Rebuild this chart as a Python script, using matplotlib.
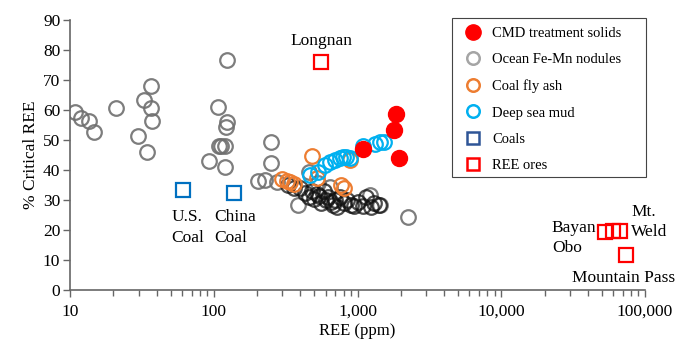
import numpy as np
import matplotlib.pyplot as plt
from matplotlib.lines import Line2D
from matplotlib.patches import Rectangle
from matplotlib.ticker import FuncFormatter, LogLocator, NullFormatter

plt.rcParams['font.family'] = ['Liberation Serif', 'DejaVu Serif']

# CMD treatment solids
cmd_x = [1090, 1800, 1855, 1945]
cmd_y = [47.0, 53.3, 58.7, 44.0]

# Ocean Fe-Mn nodules
nod_x = [10.8, 11.9, 13.6, 14.7, 20.9, 29.7, 32.7, 34.3, 36.6, 36.6, 37.3,
         92.7, 107, 108, 112, 124, 124, 122, 120, 120,
         203, 250, 250, 227, 276, 385, 535, 644, 1230, 1430, 2245, 460]
nod_y = [59.3, 57.3, 56.3, 52.7, 60.7, 51.3, 63.3, 45.9, 68.0, 60.7, 56.4,
         43.0, 61.0, 48.0, 48.0, 76.7, 56.0, 54.3, 48.0, 41.0,
         36.3, 49.5, 42.5, 36.7, 36.0, 28.3, 35.7, 34.3, 31.7, 28.3, 24.3, 39.5]

# Coal samples (dark circles)
coal_x = [330, 360, 400, 430, 460, 480, 500, 520, 540, 560, 580, 600, 620,
          650, 680, 700, 720, 760, 800, 850, 900, 950, 1000, 1100, 1150,
          1250, 1300, 1400]
coal_y = [35.0, 34.0, 34.0, 32.3, 31.0, 33.0, 30.5, 32.0, 31.5, 29.0, 33.0,
          30.0, 31.0, 29.5, 28.5, 30.0, 27.7, 31.0, 29.0, 30.0, 28.5, 28.0,
          29.5, 28.0, 31.0, 27.7, 29.0, 28.3]

# Coal fly ash
ash_x = [300, 322, 340, 360, 482, 523, 770, 800, 887]
ash_y = [37.0, 36.5, 36.0, 35.5, 44.7, 37.3, 35.0, 34.0, 43.3]

# Deep sea mud
mud_x = [468, 532, 593, 640, 696, 755, 793, 830, 887, 1091, 1320, 1430, 1540]
mud_y = [38.3, 39.3, 41.7, 42.7, 43.3, 44.0, 44.3, 44.3, 44.0, 48.0, 48.7,
         49.3, 49.3]

# Coal averages
coal_avg_x = [61, 138]
coal_avg_y = [33.3, 32.3]
coal_avg_names = ['U.S.\nCoal', 'China\nCoal']

# REE ores
ore_x = [557, 52700, 60000, 67000, 73800]
ore_y = [76.0, 19.5, 19.7, 19.7, 11.7]

fig = plt.figure(figsize=(6.76, 3.4), dpi=100)
ax = fig.add_axes([0.1036, 0.147, 0.8506, 0.794])

ms = 10.5
lw = 1.6
ax.plot(nod_x, nod_y, 'o', ms=ms, mfc='none', mec='#6f6f6f', mew=lw, alpha=0.9)
ax.plot(coal_x, coal_y, 'o', ms=ms, mfc='none', mec='#111111', mew=lw, alpha=0.75)
ax.plot(ash_x, ash_y, 'o', ms=ms, mfc='none', mec='#ed7d31', mew=lw)
ax.plot(mud_x, mud_y, 'o', ms=ms, mfc='none', mec='#00b0f0', mew=lw)
ax.plot(cmd_x, cmd_y, 'o', ms=11.5, mfc='#ff0000', mec='#ff0000')
ax.plot(coal_avg_x, coal_avg_y, 's', ms=ms, mfc='none', mec='#0070c0', mew=lw)
ax.plot(ore_x, ore_y, 's', ms=ms, mfc='none', mec='#ff0000', mew=lw)

fs = 12.5
ax.text(557, 80.5, 'Longnan', ha='center', va='bottom', fontsize=fs)
ax.text(51, 27.0, coal_avg_names[0], ha='left', va='top', fontsize=fs,
        linespacing=1.4)
ax.text(101, 27.0, coal_avg_names[1], ha='left', va='top', fontsize=fs,
        linespacing=1.4)
ax.text(22500, 23.5, 'Bayan\nObo', ha='left', va='top', fontsize=fs,
        linespacing=1.4)
ax.text(80000, 28.8, 'Mt.\nWeld', ha='left', va='top', fontsize=fs,
        linespacing=1.4)
ax.text(31000, 4.0, 'Mountain Pass', ha='left', va='center', fontsize=fs)

ax.set_xscale('log')
ax.set_xlim(10, 100000)
ax.set_ylim(0, 90)
ax.set_yticks(np.arange(0, 91, 10))
ax.xaxis.set_major_formatter(FuncFormatter(lambda v, p: f'{v:,.0f}'))
ax.xaxis.set_minor_locator(LogLocator(base=10, subs=np.arange(2, 10)))
ax.xaxis.set_minor_formatter(NullFormatter())
ax.tick_params(axis='both', which='major', labelsize=12.5, length=5,
               width=1, color='#666666', direction='out')
ax.tick_params(axis='x', which='minor', length=4, width=1, color='#666666')
ax.tick_params(axis='x', pad=5)
ax.tick_params(axis='y', pad=2)
for side in ['top', 'right']:
    ax.spines[side].set_visible(False)
for side in ['left', 'bottom']:
    ax.spines[side].set_color('#666666')
    ax.spines[side].set_linewidth(1.2)

ax.set_xlabel('REE (ppm)', fontsize=12, labelpad=2)
ax.set_ylabel('% Critical REE', fontsize=12.5, labelpad=3)

# legend box drawn separately so it can be wider than its contents
fig.patches.append(Rectangle((0.6686, 0.4794), 0.287, 0.4676,
                             transform=fig.transFigure, fill=False,
                             edgecolor='#444444', linewidth=0.8))

handles = [
    Line2D([], [], ls='none', marker='o', ms=11, mfc='#ff0000', mec='#ff0000'),
    Line2D([], [], ls='none', marker='o', ms=9, mfc='none', mec='#a5a5a5', mew=1.8),
    Line2D([], [], ls='none', marker='o', ms=9, mfc='none', mec='#ed7d31', mew=1.8),
    Line2D([], [], ls='none', marker='o', ms=9, mfc='none', mec='#00b0f0', mew=1.8),
    Line2D([], [], ls='none', marker='s', ms=9, mfc='none', mec='#2f5597', mew=1.8),
    Line2D([], [], ls='none', marker='s', ms=9, mfc='none', mec='#ff0000', mew=1.8),
]
labels = ['CMD treatment solids', 'Ocean Fe-Mn nodules', 'Coal fly ash',
          'Deep sea mud', 'Coals', 'REE ores']
fig.legend(handles, labels, loc='upper left',
           bbox_to_anchor=(0.6686, 0.947), fontsize=10.5,
           frameon=False, labelspacing=0.9, borderpad=0.6,
           handletextpad=0.4, handlelength=1.74, borderaxespad=0)

fig.savefig('out.png', dpi=100)
